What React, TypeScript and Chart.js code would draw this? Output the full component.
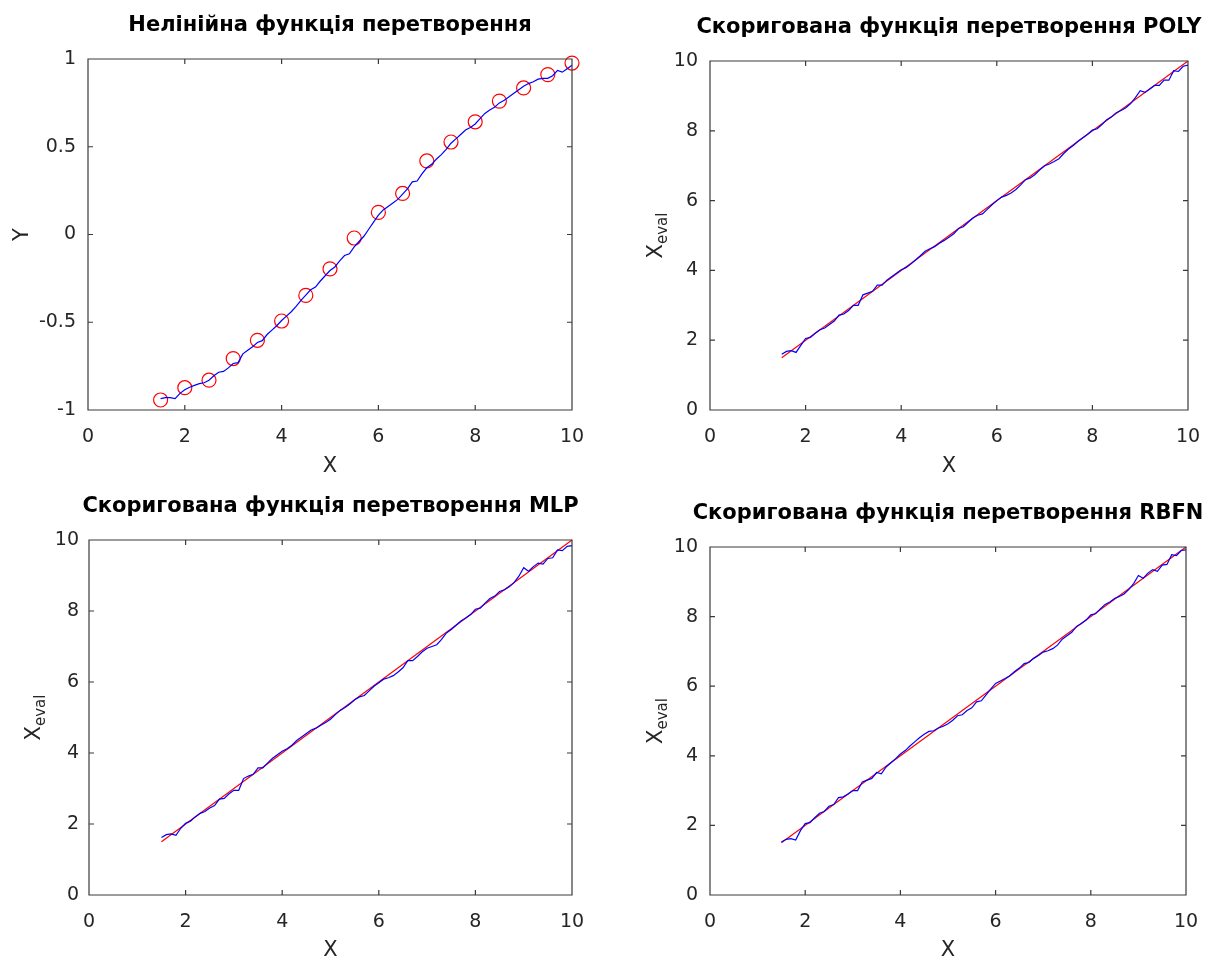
import React, { useEffect, useRef } from 'react';
import { Chart, registerables } from 'chart.js';

Chart.register(...registerables);

// ---------- data ----------
const X_FINE = [
  1.5, 1.6, 1.7, 1.8, 1.9, 2.0, 2.1, 2.2, 2.3, 2.4,
  2.5, 2.6, 2.7, 2.8, 2.9, 3.0, 3.1, 3.2, 3.3, 3.4,
  3.5, 3.6, 3.7, 3.8, 3.9, 4.0, 4.1, 4.2, 4.3, 4.4,
  4.5, 4.6, 4.7, 4.8, 4.9, 5.0, 5.1, 5.2, 5.3, 5.4,
  5.5, 5.6, 5.7, 5.8, 5.9, 6.0, 6.1, 6.2, 6.3, 6.4,
  6.5, 6.6, 6.7, 6.8, 6.9, 7.0, 7.1, 7.2, 7.3, 7.4,
  7.5, 7.6, 7.7, 7.8, 7.9, 8.0, 8.1, 8.2, 8.3, 8.4,
  8.5, 8.6, 8.7, 8.8, 8.9, 9.0, 9.1, 9.2, 9.3, 9.4,
  9.5, 9.6, 9.7, 9.8, 9.9, 10.0,
];

const X_SAMPLES = [1.5, 2, 2.5, 3, 3.5, 4, 4.5, 5, 5.5, 6, 6.5, 7, 7.5, 8, 8.5, 9, 9.5, 10];
const Y_SAMPLES = [
  -0.943, -0.873, -0.83, -0.707, -0.603, -0.493, -0.347, -0.196, -0.02,
  0.126, 0.234, 0.419, 0.527, 0.642, 0.76, 0.835, 0.911, 0.977,
];

const Y_NONLINEAR = [
  -0.935, -0.93, -0.93, -0.935, -0.905, -0.885, -0.87, -0.86, -0.85, -0.845,
  -0.83, -0.805, -0.785, -0.78, -0.76, -0.735, -0.73, -0.68, -0.66, -0.64,
  -0.615, -0.605, -0.57, -0.545, -0.52, -0.49, -0.465, -0.44, -0.41, -0.375,
  -0.345, -0.315, -0.3, -0.265, -0.235, -0.205, -0.185, -0.15, -0.12, -0.11,
  -0.07, -0.04, -0.01, 0.03, 0.07, 0.11, 0.14, 0.16, 0.18, 0.2,
  0.23, 0.26, 0.3, 0.305, 0.345, 0.38, 0.4, 0.43, 0.455, 0.485,
  0.52, 0.545, 0.57, 0.595, 0.61, 0.63, 0.66, 0.69, 0.71, 0.725,
  0.75, 0.765, 0.785, 0.805, 0.825, 0.845, 0.86, 0.87, 0.885, 0.89,
  0.89, 0.905, 0.935, 0.925, 0.945, 0.965,
];

const X_POLY = [
  1.6, 1.68, 1.7, 1.65, 1.85, 2.05, 2.08, 2.2, 2.3, 2.35,
  2.45, 2.55, 2.72, 2.75, 2.85, 3.0, 3.0, 3.3, 3.35, 3.4,
  3.58, 3.58, 3.72, 3.82, 3.92, 4.02, 4.08, 4.18, 4.3, 4.42,
  4.55, 4.62, 4.68, 4.78, 4.86, 4.95, 5.05, 5.2, 5.25, 5.38,
  5.5, 5.58, 5.62, 5.75, 5.88, 6.0, 6.1, 6.15, 6.22, 6.32,
  6.45, 6.6, 6.65, 6.75, 6.88, 7.0, 7.05, 7.12, 7.2, 7.35,
  7.48, 7.58, 7.7, 7.8, 7.9, 8.02, 8.06, 8.18, 8.32, 8.4,
  8.52, 8.58, 8.66, 8.78, 8.95, 9.15, 9.1, 9.2, 9.3, 9.3,
  9.45, 9.45, 9.72, 9.7, 9.85, 9.88,
];

const X_MLP = [
  1.62, 1.7, 1.72, 1.68, 1.88, 2.02, 2.08, 2.2, 2.3, 2.35,
  2.45, 2.52, 2.7, 2.72, 2.85, 2.95, 2.95, 3.28, 3.35, 3.4,
  3.58, 3.58, 3.72, 3.85, 3.95, 4.05, 4.12, 4.22, 4.35, 4.45,
  4.55, 4.65, 4.7, 4.78, 4.86, 4.95, 5.08, 5.2, 5.28, 5.38,
  5.5, 5.58, 5.62, 5.75, 5.88, 5.98, 6.08, 6.12, 6.18, 6.28,
  6.4, 6.6, 6.6, 6.72, 6.85, 6.95, 7.0, 7.05, 7.2, 7.38,
  7.48, 7.6, 7.72, 7.8, 7.9, 8.05, 8.08, 8.22, 8.35, 8.42,
  8.55, 8.6, 8.68, 8.8, 8.98, 9.22, 9.12, 9.25, 9.35, 9.32,
  9.48, 9.5, 9.72, 9.7, 9.82, 9.84,
];

const X_RBFN = [
  1.52, 1.6, 1.62, 1.58, 1.85, 2.05, 2.08, 2.22, 2.35, 2.4,
  2.55, 2.6, 2.8, 2.82, 2.9, 3.0, 3.0, 3.25, 3.3, 3.35,
  3.52, 3.48, 3.68, 3.8, 3.92, 4.05, 4.15, 4.28, 4.4, 4.52,
  4.62, 4.7, 4.72, 4.8, 4.85, 4.92, 5.02, 5.15, 5.18, 5.3,
  5.38, 5.55, 5.58, 5.75, 5.92, 6.08, 6.15, 6.22, 6.3, 6.42,
  6.52, 6.65, 6.68, 6.8, 6.88, 6.98, 7.02, 7.08, 7.18, 7.35,
  7.45, 7.55, 7.72, 7.8, 7.9, 8.05, 8.08, 8.22, 8.35, 8.42,
  8.52, 8.58, 8.65, 8.78, 8.95, 9.18, 9.1, 9.25, 9.35, 9.3,
  9.48, 9.5, 9.78, 9.75, 9.9, 9.92,
];

const IDEAL_X = [1.5, 10];
const IDEAL_Y = [1.5, 10];

const TITLES = [
  'Нелінійна функція перетворення',
  'Скоригована функція перетворення POLY',
  'Скоригована функція перетворення MLP',
  'Скоригована функція перетворення RBFN',
];

const FONT = '"DejaVu Sans", "Liberation Sans", Arial, sans-serif';
const TEXT_COLOR = '#262626';

type Spec = {
  left: number; top: number; w: number; h: number;
  padL: number; padT: number; padR: number; padB: number;
  title: string;
  yMin: number; yMax: number; yStep: number;
  yLabel: 'Y' | 'Xeval';
  yLabelOffset: number;
  xLabelOffset: number;
  yTickPad: number;
  datasets: any[];
};

const pts = (xs: number[], ys: number[]) => xs.map((x, i) => ({ x, y: ys[i] }));

const blueLine = (ys: number[]) => ({
  data: pts(X_FINE, ys),
  showLine: true,
  borderColor: '#0000ff',
  borderWidth: 1.2,
  pointRadius: 0,
  fill: false,
  tension: 0,
  clip: false,
});

const redLine = () => ({
  data: pts(IDEAL_X, IDEAL_Y),
  showLine: true,
  borderColor: '#ff0000',
  borderWidth: 1.2,
  pointRadius: 0,
  fill: false,
  tension: 0,
  clip: false,
});

const framePlugin = {
  id: 'octaveFrame',
  afterDraw(chart: any) {
    const spec: Spec = chart.options.plugins.octaveFrame.spec;
    const { ctx, chartArea } = chart;
    const { left, top, right, bottom } = chartArea;
    const xs = chart.scales.x;
    const ys = chart.scales.y;
    ctx.save();
    ctx.strokeStyle = '#3a3a3a';
    ctx.lineWidth = 1.2;
    ctx.beginPath();
    ctx.rect(left, top, right - left, bottom - top);
    ctx.stroke();
    const TL = 5;
    ctx.beginPath();
    xs.ticks.forEach((t: any) => {
      const p = xs.getPixelForValue(t.value);
      if (Math.abs(p - left) < 1 || Math.abs(p - right) < 1) return;
      ctx.moveTo(p, bottom); ctx.lineTo(p, bottom - TL);
      ctx.moveTo(p, top); ctx.lineTo(p, top + TL);
    });
    ys.ticks.forEach((t: any) => {
      const p = ys.getPixelForValue(t.value);
      if (Math.abs(p - top) < 1 || Math.abs(p - bottom) < 1) return;
      ctx.moveTo(left, p); ctx.lineTo(left + TL, p);
      ctx.moveTo(right, p); ctx.lineTo(right - TL, p);
    });
    ctx.stroke();

    const cx = (left + right) / 2;
    const cy = (top + bottom) / 2;

    // title
    ctx.fillStyle = '#000000';
    ctx.font = `bold 21px ${FONT}`;
    ctx.textAlign = 'center';
    ctx.textBaseline = 'middle';
    ctx.fillText(spec.title, cx, top - 33);

    // x label
    ctx.fillStyle = TEXT_COLOR;
    ctx.font = `21px ${FONT}`;
    ctx.fillText('X', cx, bottom + spec.xLabelOffset);

    // y label (rotated)
    ctx.save();
    const base = left - spec.yLabelOffset;
    ctx.translate(base, cy);
    ctx.rotate(-Math.PI / 2);
    ctx.textAlign = 'left';
    ctx.textBaseline = 'alphabetic';
    if (spec.yLabel === 'Y') {
      ctx.font = `21px ${FONT}`;
      const w = ctx.measureText('Y').width;
      ctx.fillText('Y', -w / 2, 0);
    } else {
      ctx.font = `21px ${FONT}`;
      const wX = ctx.measureText('X').width;
      ctx.font = `15px ${FONT}`;
      const wE = ctx.measureText('eval').width;
      const start = -(wX + wE) / 2;
      ctx.font = `21px ${FONT}`;
      ctx.fillText('X', start, 0);
      ctx.font = `15px ${FONT}`;
      ctx.fillText('eval', start + wX, 5);
    }
    ctx.restore();
    ctx.restore();
  },
};

function makeConfig(spec: Spec): any {
  const tickFont = { family: FONT, size: 19 };
  return {
    type: 'scatter',
    data: { datasets: spec.datasets },
    options: {
      responsive: false,
      animation: false,
      devicePixelRatio: 1,
      events: [],
      layout: { padding: { top: spec.padT, right: spec.padR, left: 0, bottom: 0 } },
      plugins: {
        legend: { display: false },
        tooltip: { enabled: false },
        title: { display: false },
        octaveFrame: { spec },
      },
      scales: {
        x: {
          type: 'linear',
          min: 0,
          max: 10,
          offset: false,
          grid: { display: false, drawTicks: false, tickLength: 0 },
          border: { display: false },
          ticks: {
            stepSize: 2, padding: 16, color: TEXT_COLOR, font: tickFont, maxRotation: 0,
            callback: (v: number) => String(v),
          },
          afterFit: (s: any) => {
            s.height = spec.padB;
            s.paddingLeft = 0;
            s.paddingRight = 0;
          },
        },
        y: {
          type: 'linear',
          min: spec.yMin,
          max: spec.yMax,
          offset: false,
          grid: { display: false, drawTicks: false, tickLength: 0 },
          border: { display: false },
          ticks: {
            stepSize: spec.yStep, padding: spec.yTickPad, color: TEXT_COLOR, font: tickFont,
            callback: (v: number) => String(Math.round(v * 100) / 100),
          },
          afterFit: (s: any) => {
            s.width = spec.padL;
            s.paddingTop = 0;
            s.paddingBottom = 0;
          },
        },
      },
    },
    plugins: [framePlugin],
  };
}

const SPECS: Spec[] = [
  {
    left: 0, top: 0, w: 600, h: 480,
    padL: 88, padT: 59, padR: 28, padB: 70,
    title: TITLES[0], yMin: -1, yMax: 1, yStep: 0.5,
    yLabel: 'Y', yLabelOffset: 60, xLabelOffset: 57, yTickPad: 12,
    datasets: [
      blueLine(Y_NONLINEAR),
      {
        data: pts(X_SAMPLES, Y_SAMPLES),
        showLine: false,
        pointStyle: 'circle',
        pointRadius: 7,
        pointBorderColor: '#ff0000',
        pointBackgroundColor: 'rgba(0,0,0,0)',
        pointBorderWidth: 1.2,
        borderColor: '#ff0000',
        backgroundColor: 'rgba(0,0,0,0)',
        clip: false,
      },
    ],
  },
  {
    left: 610, top: 0, w: 600, h: 480,
    padL: 100, padT: 61, padR: 22, padB: 70,
    title: TITLES[1], yMin: 0, yMax: 10, yStep: 2,
    yLabel: 'Xeval', yLabelOffset: 48, xLabelOffset: 57, yTickPad: 12,
    datasets: [blueLine(X_POLY), redLine()],
  },
  {
    left: 0, top: 480, w: 600, h: 481,
    padL: 89, padT: 60, padR: 28, padB: 66,
    title: TITLES[2], yMin: 0, yMax: 10, yStep: 2,
    yLabel: 'Xeval', yLabelOffset: 49, xLabelOffset: 56, yTickPad: 10,
    datasets: [blueLine(X_MLP), redLine()],
  },
  {
    left: 610, top: 480, w: 600, h: 481,
    padL: 100, padT: 67, padR: 24, padB: 66,
    title: TITLES[3], yMin: 0, yMax: 10, yStep: 2,
    yLabel: 'Xeval', yLabelOffset: 48, xLabelOffset: 56, yTickPad: 12,
    datasets: [blueLine(X_RBFN), redLine()],
  },
];

function Panel({ spec }: { spec: Spec }) {
  const ref = useRef<HTMLCanvasElement | null>(null);
  useEffect(() => {
    if (!ref.current) return;
    const chart = new Chart(ref.current, makeConfig(spec));
    return () => chart.destroy();
  }, [spec]);
  return (
    <canvas
      ref={ref}
      width={spec.w}
      height={spec.h}
      style={{ position: 'absolute', left: spec.left, top: spec.top, width: spec.w, height: spec.h }}
    />
  );
}

export default function App() {
  return (
    <div style={{ position: 'absolute', left: 0, top: 0, width: 1210, height: 961, background: '#ffffff', overflow: 'hidden' }}>
      {SPECS.map((s, i) => (
        <Panel key={i} spec={s} />
      ))}
    </div>
  );
}
